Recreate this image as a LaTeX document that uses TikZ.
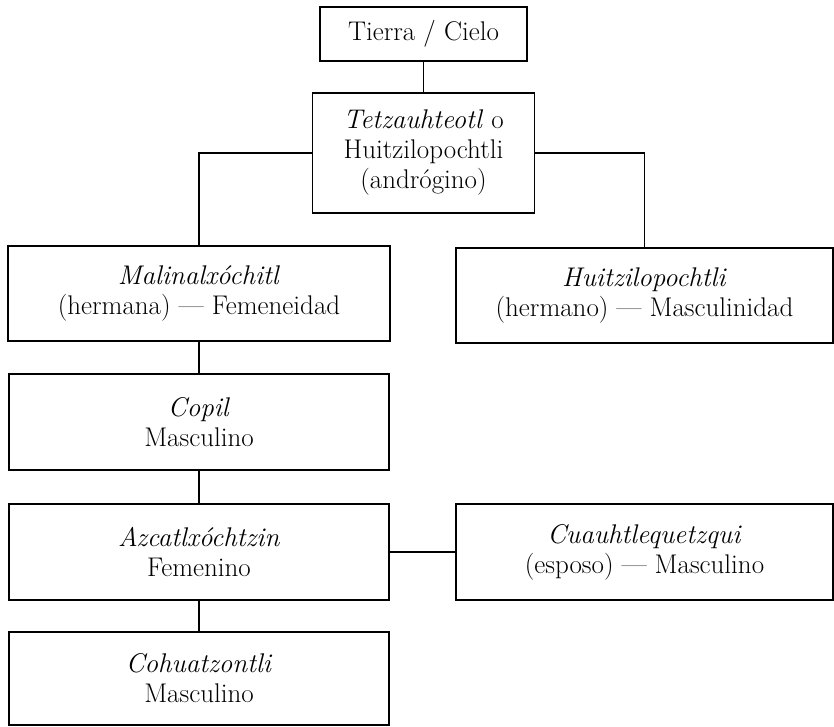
\documentclass[tikz,border=0pt]{standalone}
\usepackage{fontspec}
\begin{document}
\begin{tikzpicture}[x=1pt,y=-1pt,
  box/.style={draw,line width=1.3pt,rectangle,inner sep=0pt,align=center,
    font=\fontsize{27}{30}\selectfont},
  link/.style={line width=1.3pt}]
\useasboundingbox (0,0) rectangle (834,726);
\node[box,minimum width=207pt,minimum height=54pt] (A) at (423.5,34) {Tierra / Cielo};
\node[box,minimum width=222pt,minimum height=120pt] (B) at (423.5,153) {\textit{Tetzauhteotl} o\\Huitzilopochtli\\(andrógino)};
\node[box,minimum width=382pt,minimum height=95pt] (C) at (199,293.5) {\textit{Malinalxóchitl}\\(hermana) — Femeneidad};
\node[box,minimum width=377pt,minimum height=95pt] (D) at (644.5,295.5) {\textit{Huitzilopochtli}\\(hermano) — Masculinidad};
\node[box,minimum width=380pt,minimum height=96pt] (E) at (199,422) {\textit{Copil}\\Masculino};
\node[box,minimum width=380pt,minimum height=96pt] (F) at (199,552) {\textit{Azcatlxóchtzin}\\Femenino};
\node[box,minimum width=377pt,minimum height=96pt] (G) at (644.5,552) {\textit{Cuauhtlequetzqui}\\(esposo) — Masculino};
\node[box,minimum width=380pt,minimum height=93pt] (H) at (199,678.5) {\textit{Cohuatzontli}\\Masculino};
\draw[link] (A.south) -- (B.north);
\draw[link] (B.west) -| (C.north);
\draw[link] (B.east) -| (D.north);
\draw[link] (C.south) -- (E.north);
\draw[link] (E.south) -- (F.north);
\draw[link] (F.east) -- (G.west);
\draw[link] (F.south) -- (H.north);
\end{tikzpicture}
\end{document}
